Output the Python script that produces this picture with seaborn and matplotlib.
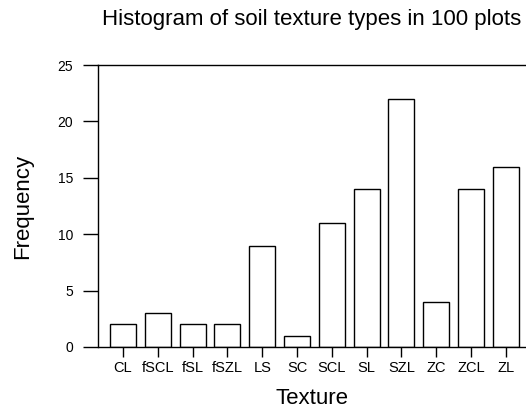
import matplotlib
matplotlib.use("Agg")
import matplotlib.pyplot as plt
import seaborn as sns

textures = ["CL", "fSCL", "fSL", "fSZL", "LS", "SC", "SCL", "SL", "SZL", "ZC", "ZCL", "ZL"]
counts = [2, 3, 2, 2, 9, 1, 11, 14, 22, 4, 14, 16]
yticks = [0, 5, 10, 15, 20, 25]

sns.set_style("white")
plt.rcParams["font.family"] = ["Liberation Sans", "DejaVu Sans"]
plt.rcParams["text.color"] = "black"
plt.rcParams["axes.labelcolor"] = "black"
plt.rcParams["xtick.color"] = "black"
plt.rcParams["ytick.color"] = "black"

fig = plt.figure(figsize=(5.26, 4.12), dpi=100)
ax = fig.add_axes([0.1863, 0.1578, 0.8137, 0.6842])

sns.barplot(x=textures, y=counts, color="white", edgecolor="black",
            linewidth=1.0, width=0.75, saturation=1, ax=ax)

ax.set_xlim(-0.72, 11.58)
ax.set_ylim(0, 25)
ax.set_yticks(yticks)

for s in ["left", "top"]:
    ax.spines[s].set_visible(True)
    ax.spines[s].set_color("black")
    ax.spines[s].set_linewidth(1.0)
ax.spines["right"].set_visible(False)
ax.spines["bottom"].set_visible(False)
ax.axhline(0, color="black", lw=1.0, clip_on=False)

ax.tick_params(axis="y", direction="out", length=10.8, width=1,
               labelsize=10, pad=7, left=True)
ax.tick_params(axis="x", direction="out", length=7, width=1,
               labelsize=10.5, pad=3, bottom=True)

ax.set_xlabel("Texture", fontsize=16)
ax.xaxis.set_label_coords(0.5, -0.145)
ax.set_ylabel("Frequency", fontsize=16)
ax.yaxis.set_label_coords(-0.152, 0.5)
fig.text(312 / 526, 1 - 9 / 412, "Histogram of soil texture types in 100 plots",
         fontsize=16, ha="center", va="top")

fig.savefig("out.png", dpi=100)
